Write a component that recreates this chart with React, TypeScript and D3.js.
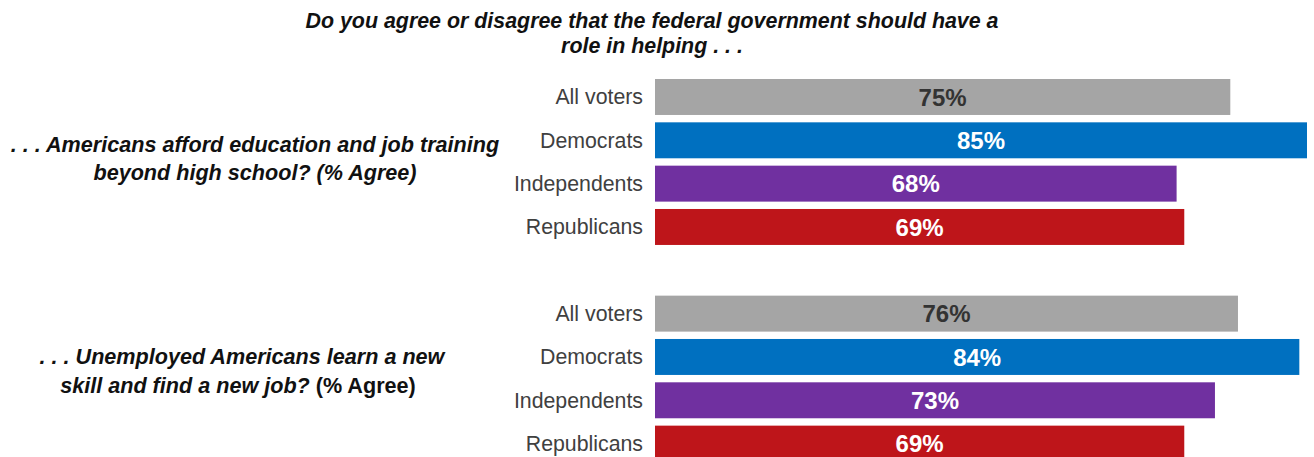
import React from "react";
import * as d3 from "d3";

const categories = ["All voters", "Democrats", "Independents", "Republicans"];
const q1Values = [75, 85, 68, 69];
const q2Values = [76, 84, 73, 69];
const barColors = ["#A5A5A5", "#0070C0", "#7030A0", "#BE151A"];
const valueColors = ["#333333", "#FFFFFF", "#FFFFFF", "#FFFFFF"];
const titleLines = [
  "Do you agree or disagree that the federal government should have a",
  "role in helping . . .",
];
const q1Lines = [
  ". . . Americans afford education and job training",
  "beyond high school? (% Agree)",
];
const q2Line1 = ". . . Unemployed Americans learn a new";
const q2Line2Italic = "skill and find a new job? ";
const q2Line2Plain = "(% Agree)";

const W = 1314;
const H = 457;
const FONT = "'Liberation Sans', Arial, Helvetica, sans-serif";

export default function App() {
  const rows = [
    ...categories.map((c, i) => ({ key: "q1-" + i, cat: c, value: q1Values[i], i })),
    { key: "gap", cat: "", value: 0, i: -1 },
    ...categories.map((c, i) => ({ key: "q2-" + i, cat: c, value: q2Values[i], i })),
  ];
  const bars = rows.filter((r) => r.i >= 0);

  const x = d3.scaleLinear().domain([0, 85]).range([655, 1307]);
  const step = 43.33;
  const pad = 0.17;
  const y0 = 79 - step * pad / 2;
  const y = d3
    .scaleBand<string>()
    .domain(rows.map((r) => r.key))
    .range([y0, y0 + step * rows.length])
    .paddingInner(pad)
    .paddingOuter(pad / 2);

  return (
    <svg
      width={W}
      height={H}
      style={{ position: "absolute", left: 0, top: 0, display: "block", background: "#fff" }}
      fontFamily={FONT}
    >
      <g>
        {titleLines.map((t, k) => (
          <text
            key={k}
            x={652}
            y={28 + k * 25}
            textAnchor="middle"
            fontSize={21.4}
            fontWeight="bold"
            fontStyle="italic"
            fill="#111"
          >
            {t}
          </text>
        ))}
      </g>
      <g>
        {q1Lines.map((t, k) => (
          <text
            key={k}
            x={255}
            y={152 + k * 28}
            textAnchor="middle"
            fontSize={21.6}
            fontWeight="bold"
            fontStyle="italic"
            fill="#111"
          >
            {t}
          </text>
        ))}
        <text x={242} y={364} textAnchor="middle" fontSize={21.6} fontWeight="bold" fontStyle="italic" fill="#111">
          {q2Line1}
        </text>
        <text x={238} y={393} textAnchor="middle" fontSize={21.6} fontWeight="bold" fill="#111">
          <tspan fontStyle="italic">{q2Line2Italic}</tspan>
          <tspan>{q2Line2Plain}</tspan>
        </text>
      </g>
      <g>
        {bars.map((r) => {
          const yy = y(r.key)!;
          const bw = y.bandwidth();
          return (
            <g key={r.key}>
              <rect x={x(0)} y={yy} width={x(r.value) - x(0)} height={bw} fill={barColors[r.i]} />
              <text
                x={643}
                y={yy + bw / 2}
                dy="0.35em"
                textAnchor="end"
                fontSize={21.3}
                fill="#404040"
              >
                {r.cat}
              </text>
              <text
                x={(x(0) + x(r.value)) / 2}
                y={yy + bw / 2}
                dy="0.36em"
                textAnchor="middle"
                fontSize={24}
                fontWeight="bold"
                fill={valueColors[r.i]}
              >
                {r.value + "%"}
              </text>
            </g>
          );
        })}
      </g>
    </svg>
  );
}
